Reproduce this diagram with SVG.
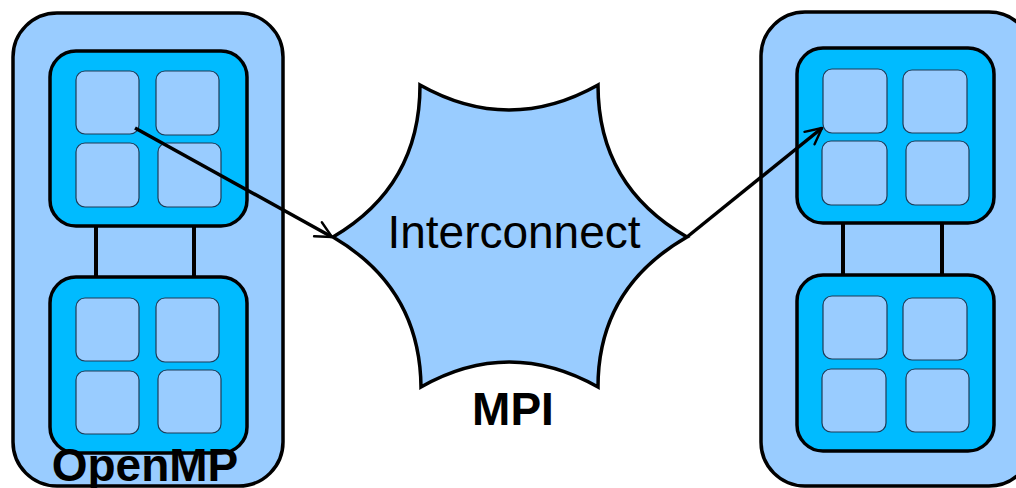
<svg xmlns="http://www.w3.org/2000/svg" width="1016" height="488" viewBox="0 0 1016 488">
  <style>
    .node { fill: #99ccff; stroke: #000; stroke-width: 3.5; }
    .chip { fill: #00bbff; stroke: #000; stroke-width: 3.5; }
    .core { fill: #99ccff; stroke: #1f3b57; stroke-width: 1.2; }
    .bus { stroke: #000; stroke-width: 4; fill: none; }
    .msg { stroke: #000; stroke-width: 3.5; fill: none; }
    .label { font-family: "Liberation Sans", Arial, sans-serif; font-size: 46px; fill: #000; }
    .bold { font-weight: bold; }
  </style>
  <defs>
    <marker id="openArrow" viewBox="0 0 12 12" refX="11" refY="6" markerWidth="5.5" markerHeight="5.5" markerUnits="strokeWidth" orient="auto">
      <path d="M1,1 L11,6 L1,11" fill="none" stroke="#000" stroke-width="1.5" stroke-linecap="round" stroke-linejoin="round"/>
    </marker>
  </defs>

  <rect width="1016" height="488" fill="#fff"/>

  <!-- Left cluster node -->
  <g id="node-left">
    <rect class="node" x="13" y="13" width="270" height="473" rx="44"/>
    <line class="bus" x1="96" y1="224" x2="96" y2="279"/>
    <line class="bus" x1="194" y1="224" x2="194" y2="279"/>
    <g id="left-socket-top">
      <rect class="chip" x="50" y="51" width="197" height="175" rx="26"/>
      <rect class="core" x="76" y="71" width="63" height="63" rx="9"/>
      <rect class="core" x="156" y="71" width="63" height="64" rx="9"/>
      <rect class="core" x="76" y="143" width="63" height="64" rx="9"/>
      <rect class="core" x="158" y="143" width="63" height="64" rx="9"/>
    </g>
    <g id="left-socket-bottom">
      <rect class="chip" x="50" y="277" width="197" height="176" rx="26"/>
      <rect class="core" x="76" y="298" width="63" height="63" rx="9"/>
      <rect class="core" x="156" y="298" width="63" height="64" rx="9"/>
      <rect class="core" x="76" y="371" width="63" height="63" rx="9"/>
      <rect class="core" x="158" y="370" width="63" height="63" rx="9"/>
    </g>
    <text class="label bold" x="145" y="481" text-anchor="middle">OpenMP</text>
  </g>

  <!-- Right cluster node -->
  <g id="node-right">
    <rect class="node" x="761" y="12" width="272" height="474" rx="44"/>
    <line class="bus" x1="843" y1="221" x2="843" y2="277"/>
    <line class="bus" x1="942" y1="221" x2="942" y2="277"/>
    <g id="right-socket-top">
      <rect class="chip" x="797" y="48" width="197" height="175" rx="26"/>
      <rect class="core" x="823" y="69" width="64" height="64" rx="9"/>
      <rect class="core" x="903" y="70" width="64" height="63" rx="9"/>
      <rect class="core" x="822" y="141" width="65" height="64" rx="9"/>
      <rect class="core" x="906" y="141" width="63" height="64" rx="9"/>
    </g>
    <g id="right-socket-bottom">
      <rect class="chip" x="797" y="275" width="197" height="176" rx="26"/>
      <rect class="core" x="823" y="296" width="64" height="63" rx="9"/>
      <rect class="core" x="903" y="298" width="64" height="62" rx="9"/>
      <rect class="core" x="822" y="369" width="64" height="63" rx="9"/>
      <rect class="core" x="906" y="369" width="63" height="63" rx="9"/>
    </g>
  </g>

  <!-- Interconnect network -->
  <g id="interconnect">
    <path class="node" stroke-linejoin="miter" d="M420,85 Q509,135 598,85 Q598,186 687,237 Q598,288 598,387 Q509,337 421,387 Q420,288 333,237 Q420,186 420,85 Z"/>
    <text class="label" x="514" y="248" text-anchor="middle" font-size="46.5">Interconnect</text>
    <text class="label bold" x="513" y="425" text-anchor="middle">MPI</text>
  </g>

  <!-- Message paths -->
  <g id="connectors">
    <line class="msg" x1="135" y1="128" x2="332" y2="237" marker-end="url(#openArrow)"/>
    <line class="msg" x1="687" y1="237" x2="822" y2="128" marker-end="url(#openArrow)"/>
  </g>
</svg>
